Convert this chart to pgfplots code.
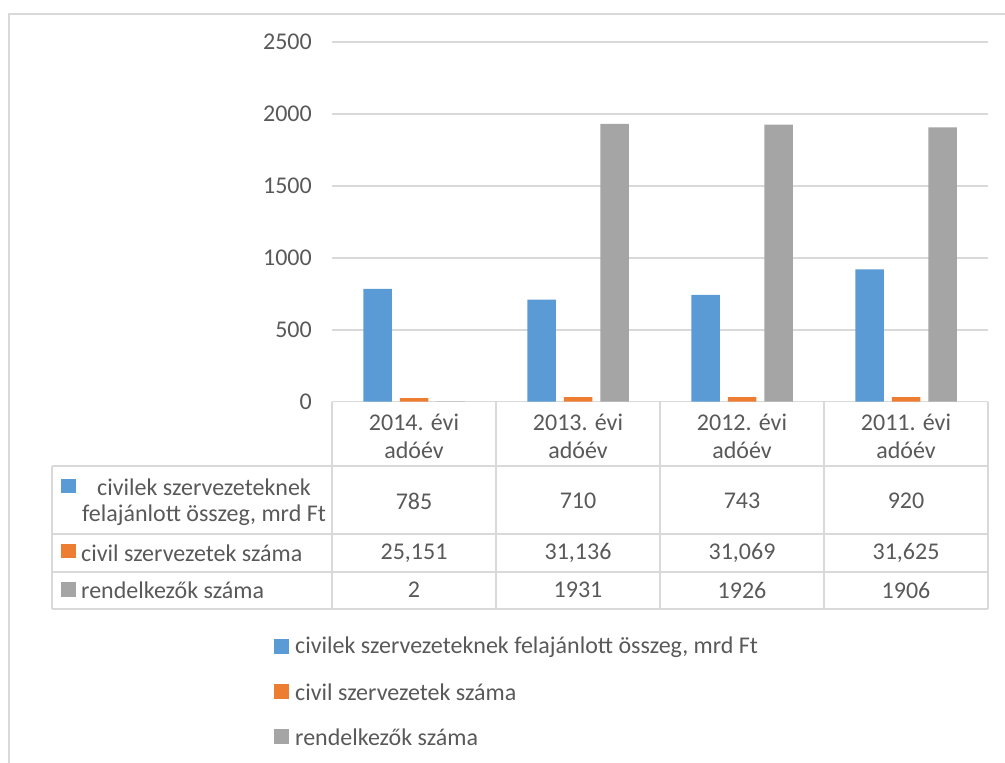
\documentclass[border=0pt]{standalone}
\usepackage{pgfplots}
\pgfplotsset{compat=1.18}
\usepackage{fontspec}
\setmainfont{Carlito}

\definecolor{serA}{HTML}{5B9BD5}
\definecolor{serB}{HTML}{ED7D31}
\definecolor{serC}{HTML}{A5A5A5}
\definecolor{gridc}{HTML}{D9D9D9}
\definecolor{txt}{HTML}{595959}

\newcommand{\cf}{\fontsize{24bp}{29bp}\selectfont\color{txt}}

\begin{document}
\begin{tikzpicture}[x=1bp,y=-1bp]
  \path[use as bounding box] (0,0) rectangle (1005,763);

  % chart area frame
  \draw[gridc, line width=1.5bp] (9,763) -- (9,14) -- (1005,14);

  \begin{axis}[
    at={(332bp,-401.7bp)}, anchor=south west,
    scale only axis, width=656bp, height=359.7bp,
    xmin=-0.5, xmax=3.5, ymin=0, ymax=2500,
    ytick={0,500,...,2500}, xtick=\empty,
    ymajorgrids, grid style={gridc, line width=1.5bp},
    axis line style={draw=none}, tick style={draw=none},
    /pgf/number format/assume math mode=true,
    /pgf/number format/set thousands separator={},
    yticklabel style={font=\cf, inner sep=0pt, anchor=east, xshift=-20bp},
    clip=false,
  ]
    % civilek szervezeteknek felajánlott összeg, mrd Ft
    \addplot[ybar, bar width=28.5bp, bar shift=-36.5bp, fill=serA, draw=none]
      coordinates {(0,785) (1,710) (2,743) (3,920)};
    % civil szervezetek száma (ezer)
    \addplot[ybar, bar width=28.5bp, bar shift=0bp, fill=serB, draw=none]
      coordinates {(0,25.151) (1,31.136) (2,31.069) (3,31.625)};
    % rendelkezők száma
    \addplot[ybar, bar width=28.5bp, bar shift=36.5bp, fill=serC, draw=none]
      coordinates {(0,2) (1,1931) (2,1926) (3,1906)};
  \end{axis}

  % data table grid
  \begin{scope}[gridc, line width=1.5bp]
    \foreach \yy in {466,534,572,609} \draw (52,\yy) -- (988,\yy);
    \draw (52,466) -- (52,609);
    \foreach \xx in {332,496,660,824,988} \draw (\xx,401.7) -- (\xx,609);
  \end{scope}

  % column headers
  \foreach \xx/\yr in {414/2014,578/2013,742/2012,906/2011} {
    \node[font=\cf, inner sep=0pt] at (\xx,422) {\yr. évi};
    \node[font=\cf, inner sep=0pt] at (\xx,450) {adóév};
  }

  % row headers
  \fill[serA] (61,479) rectangle (76,493);
  \node[font=\cf, inner sep=0pt] at (204,487) {civilek szervezeteknek};
  \node[font=\cf, inner sep=0pt] at (204,515) {felajánlott összeg, mrd Ft};
  \fill[serB] (61,544) rectangle (76,558);
  \node[font=\cf, inner sep=0pt, anchor=west] at (81,553) {civil szervezetek száma};
  \fill[serC] (61,582) rectangle (76,597);
  \node[font=\cf, inner sep=0pt, anchor=west] at (81,590) {rendelkezők száma};

  % table values
  \foreach \xx/\a/\b/\c in {414/785/{25,151}/2, 578/710/{31,136}/1931,
                            742/743/{31,069}/1926, 906/920/{31,625}/1906} {
    \node[font=\cf, inner sep=0pt] at (\xx,501) {\a};
    \node[font=\cf, inner sep=0pt] at (\xx,553) {\b};
    \node[font=\cf, inner sep=0pt] at (\xx,590) {\c};
  }

  % legend
  \fill[serA] (274,639) rectangle (289,654);
  \node[font=\cf, inner sep=0pt, anchor=west] at (295,647) {civilek szervezeteknek felajánlott összeg, mrd Ft};
  \fill[serB] (274,684) rectangle (289,699);
  \node[font=\cf, inner sep=0pt, anchor=west] at (295,692) {civil szervezetek száma};
  \fill[serC] (274,729) rectangle (289,744);
  \node[font=\cf, inner sep=0pt, anchor=west] at (295,737) {rendelkezők száma};
\end{tikzpicture}
\end{document}
